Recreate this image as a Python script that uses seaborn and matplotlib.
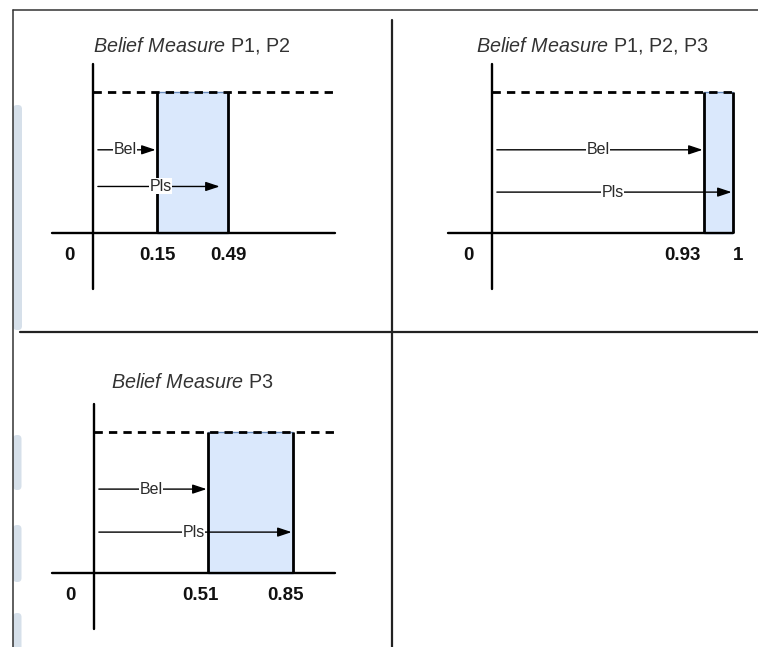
import numpy as np
import matplotlib
matplotlib.use('Agg')
import matplotlib.pyplot as plt
from matplotlib.patches import FancyBboxPatch
import seaborn as sns

# 데이터: 각 패널의 Belief / Plausibility 값
panel_titles = ['P1, P2', 'P1, P2, P3', 'P3']
bel_values = [0.15, 0.93, 0.51]
pls_values = [0.49, 1.0, 0.85]

# 레이아웃 (758x647 캔버스의 픽셀 기준)
W, H = 758, 647
zero_px = [93, 492, 94]        # 세로축 위치
bel_px = [157, 704, 208]       # 도식상 Bel 경계 위치
pls_px = [228, 733, 293]       # 도식상 Pls 경계 위치
base_px = [233, 233, 573]      # 가로축 위치
unit_px = 141                  # 높이 1 (점선) 의 픽셀 크기
axis_left_px = [52, 448, 52]
axis_right_px = [335, 733, 335]
title_pos = [(192, 45), (592, 45), (192, 383)]
bel_y = [0.59, 0.59, 0.595]
pls_y = [0.33, 0.29, 0.29]
pls_shrink = [6, 1, 1]
label_dx = [(0, 0), (-22, 5), (-8, -8)]


def schematic_scale(knots_v, knots_p):
    # 도식용 구간별 선형 스케일 (값 -> 픽셀)
    kv = np.asarray(knots_v, float)
    kp = np.asarray(knots_p, float)
    s_lo = (kp[1] - kp[0]) / (kv[1] - kv[0])
    s_hi = (kp[-1] - kp[-2]) / (kv[-1] - kv[-2])

    def fwd(x):
        x = np.asarray(x, float)
        return np.where(x < kv[0], kp[0] + (x - kv[0]) * s_lo,
                        np.where(x > kv[-1], kp[-1] + (x - kv[-1]) * s_hi,
                                 np.interp(x, kv, kp)))

    def inv(p):
        p = np.asarray(p, float)
        return np.where(p < kp[0], kv[0] + (p - kp[0]) / s_lo,
                        np.where(p > kp[-1], kv[-1] + (p - kp[-1]) / s_hi,
                                 np.interp(p, kp, kv)))
    return fwd, inv


sns.set_theme(style='white')
plt.rcParams['font.family'] = ['Liberation Sans', 'DejaVu Sans']
plt.rcParams['mathtext.fontset'] = 'custom'
plt.rcParams['mathtext.rm'] = 'Liberation Sans'
plt.rcParams['mathtext.it'] = 'Liberation Sans:italic'

fig = plt.figure(figsize=(W / 100, H / 100), dpi=100)
fig.patch.set_facecolor('white')

# 배경: 테두리, 구분선, 왼쪽 장식
ax_bg = fig.add_axes([0, 0, 1, 1])
ax_bg.set_xlim(0, W)
ax_bg.set_ylim(H, 0)
ax_bg.axis('off')
for (x0, y0, w, h) in [(13, 105, 9, 225), (13, 435, 8.5, 55), (13, 525, 8.5, 57), (13, 613, 8.5, 45)]:
    ax_bg.add_patch(FancyBboxPatch((x0, y0), w, h, boxstyle='round,pad=0,rounding_size=4',
                                   fc='#d6e0ea', ec='none'))
ax_bg.plot([13, 13], [10, H], color='#333333', lw=1.1)
ax_bg.plot([13, W], [10, 10], color='#333333', lw=1.1)
ax_bg.plot([392, 392], [20, H], color='#222222', lw=1.6)
ax_bg.plot([20, W], [332, 332], color='#222222', lw=1.6)

for i in range(3):
    bel, pls = bel_values[i], pls_values[i]
    fwd, inv = schematic_scale([0, bel, pls], [zero_px[i], bel_px[i], pls_px[i]])
    base = base_px[i]

    ax = fig.add_axes([0, 0, 1, 1])
    ax.patch.set_alpha(0)
    ax.set_xscale('function', functions=(fwd, inv))
    ax.set_xlim(float(inv(0)), float(inv(W)))
    ax.set_ylim((base - H) / unit_px, base / unit_px)
    ax.axis('off')

    # 구간 상자
    ax.bar(bel, 1, width=pls - bel, bottom=0, align='edge',
           color='#dae8fc', edgecolor='#6c8ebf', lw=1, zorder=1)
    ax.vlines([bel, pls], 0, 1, color='black', lw=2, zorder=3)

    # 점선 (높이 1)
    x_right = float(inv(axis_right_px[i]))
    sns.lineplot(x=[0, x_right], y=[1, 1], ax=ax, color='black', lw=2,
                 dashes=False, zorder=4).lines[-1].set_dashes((3, 2.2))

    # 축
    ax.plot([float(inv(axis_left_px[i])), x_right], [0, 0], color='black', lw=1.7, zorder=4)
    ax.plot([0, 0], [-0.40, 1.2], color='black', lw=1.7, zorder=4)

    # Bel / Pls 화살표
    for name, val, yy, shr in [('Bel', bel, bel_y[i], 1), ('Pls', pls, pls_y[i], pls_shrink[i])]:
        ax.annotate('', xy=(val, yy), xytext=(0, yy),
                    arrowprops=dict(arrowstyle='-|>,head_length=0.6,head_width=0.2',
                                    color='black', lw=1, shrinkA=3.5, shrinkB=shr,
                                    mutation_scale=14),
                    zorder=5)
        mid = float(inv((fwd(0) + fwd(val)) / 2))
        ax.text(mid, yy, name, ha='center', va='center', fontsize=11.5, color='#2a2a2a',
                zorder=6, bbox=dict(fc='white', ec='none', pad=0.3))

    # 눈금 라벨
    for val, dx in [(0, -24), (bel, label_dx[i][0]), (pls, label_dx[i][1])]:
        ax.annotate(f'{val:g}', xy=(val, 0), xytext=(dx, -23), textcoords='offset pixels',
                    ha='center', va='center', fontsize=13.5, fontweight='bold', color='#111111')

    # 제목
    tx, ty = title_pos[i]
    fig.text(tx / W, 1 - ty / H, r'$\mathit{Belief\ Measure}$ ' + panel_titles[i],
             ha='center', va='center', fontsize=14.2, color='#333333')

fig.savefig('out.png', dpi=100)
plt.close(fig)
